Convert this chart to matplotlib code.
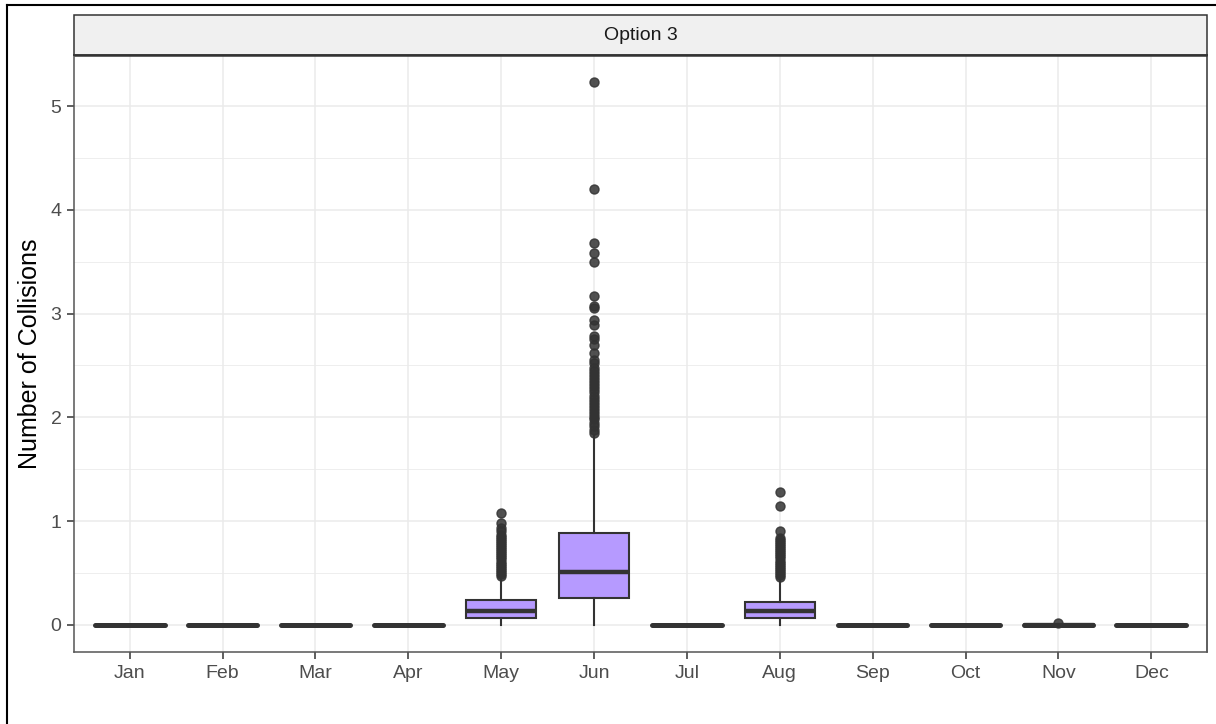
import matplotlib
matplotlib.use("Agg")
import matplotlib.pyplot as plt
from matplotlib.patches import Rectangle
from matplotlib.lines import Line2D

plt.rcParams['font.family'] = ['Liberation Sans', 'DejaVu Sans']

months = ["Jan", "Feb", "Mar", "Apr", "May", "Jun", "Jul", "Aug", "Sep", "Oct", "Nov", "Dec"]
q1     = [0, 0, 0, 0, 0.067, 0.26, 0, 0.070, 0, 0, 0.000, 0]
med    = [0, 0, 0, 0, 0.135, 0.51, 0, 0.135, 0, 0, 0.002, 0]
q3     = [0, 0, 0, 0, 0.240, 0.886, 0, 0.225, 0, 0, 0.006, 0]
whislo = [0, 0, 0, 0, 0.000, 0.00, 0, 0.000, 0, 0, 0.000, 0]
whishi = [0, 0, 0, 0, 0.450, 1.82, 0, 0.430, 0, 0, 0.010, 0]

may_out = [0.47, 0.49, 0.51, 0.53, 0.55, 0.57, 0.59, 0.61, 0.63, 0.65, 0.67, 0.69,
           0.71, 0.73, 0.75, 0.77, 0.79, 0.81, 0.83, 0.85, 0.87, 0.90, 0.93, 0.98, 1.08]
jun_out = [1.85, 1.88, 1.92, 1.95, 1.98, 2.00, 2.03, 2.06, 2.09, 2.12, 2.15, 2.18,
           2.21, 2.24, 2.27, 2.30, 2.33, 2.36, 2.39, 2.42, 2.45, 2.48, 2.52, 2.55,
           2.62, 2.70, 2.75, 2.78, 2.89, 2.94, 3.05, 3.07, 3.17, 3.50, 3.58, 3.68,
           4.20, 5.23]
aug_out = [0.46, 0.48, 0.50, 0.52, 0.54, 0.56, 0.58, 0.60, 0.62, 0.64, 0.66, 0.68,
           0.70, 0.72, 0.74, 0.76, 0.78, 0.80, 0.82, 0.84, 0.90, 1.15, 1.28]
nov_out = [0.015]
fliers = [[], [], [], [], may_out, jun_out, [], aug_out, [], [], nov_out, []]

yticks = [0, 1, 2, 3, 4, 5]
panel_title = "Option 3"
ylabel = "Number of Collisions"

W, H = 1216, 724
fig = plt.figure(figsize=(W / 100, H / 100), dpi=100)

L, R, B, T = 74, 1207, 652, 55
ax = fig.add_axes([L / W, 1 - B / H, (R - L) / W, (B - T) / H])

stats = []
for i, m in enumerate(months):
    stats.append(dict(label=m, q1=q1[i], med=med[i], q3=q3[i],
                      whislo=whislo[i], whishi=whishi[i], fliers=fliers[i]))

fill = "#B69AFF"
edge = "#333333"
pos = list(range(1, len(months) + 1))
bp = ax.bxp(stats, positions=pos, widths=0.75, patch_artist=True, showcaps=False,
            boxprops=dict(facecolor=fill, edgecolor=edge, linewidth=1.5),
            medianprops=dict(color=edge, linewidth=3.2, solid_capstyle='butt'),
            whiskerprops=dict(color=edge, linewidth=1.5),
            flierprops=dict(marker='o', markerfacecolor=edge, markeredgecolor=edge,
                            markersize=6.5, alpha=0.85, linestyle='none'),
            zorder=3)
for i in range(len(months)):
    if q3[i] - q1[i] < 0.02:
        bp['boxes'][i].set_linewidth(2.4)
        bp['boxes'][i].set_joinstyle('round')
        bp['boxes'][i].set_capstyle('round')
        bp['medians'][i].set_linewidth(3.6)
        bp['medians'][i].set_solid_capstyle('round')

ymax_data = 5.23
rng = ymax_data - 0
ax.set_ylim(0 - 0.05 * rng, ymax_data + 0.05 * rng)
ax.set_xlim(0.4, 12.6)

ax.set_yticks(yticks)
ax.set_yticks([0.5, 1.5, 2.5, 3.5, 4.5], minor=True)
ax.set_xticks(pos)
ax.set_xticklabels(months)
ax.grid(True, which='major', color='#EBEBEB', linewidth=1.1, zorder=0)
ax.grid(True, which='minor', axis='y', color='#EBEBEB', linewidth=0.6, zorder=0)
ax.set_axisbelow(True)

for s in ax.spines.values():
    s.set_color('#333333')
    s.set_linewidth(1.1)
ax.spines['left'].set_color('#555555')
ax.spines['bottom'].set_color('#555555')

ax.tick_params(axis='both', which='major', length=5, width=1.1, color='#333333',
               labelsize=14, labelcolor='#4D4D4D', pad=4)
ax.tick_params(axis='y', which='minor', length=0)

ax.set_ylabel(ylabel, fontsize=18, color='black', labelpad=6)

# facet strip
strip = Rectangle((L / W, 1 - T / H), (R - L) / W, (T - 15) / H, transform=fig.transFigure,
                  facecolor='#F0F0F0', edgecolor='#333333', linewidth=1.1, zorder=1)
fig.add_artist(strip)
fig.add_artist(Line2D([L / W, R / W], [1 - T / H, 1 - T / H], transform=fig.transFigure,
                      color='#333333', linewidth=1.8, solid_capstyle='butt'))
fig.text((L + R) / 2 / W, 1 - 35 / H, panel_title, ha='center', va='center',
         fontsize=14, color='#1A1A1A')

# outer border (left and top visible)
fig.add_artist(Line2D([7 / W, 7 / W], [0, 1 - 5 / H], transform=fig.transFigure,
                      color='black', linewidth=1.5))
fig.add_artist(Line2D([7 / W, 1], [1 - 5 / H, 1 - 5 / H], transform=fig.transFigure,
                      color='black', linewidth=1.5))

fig.savefig("out.png", dpi=100)
